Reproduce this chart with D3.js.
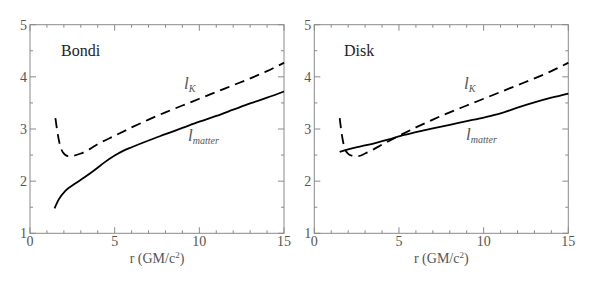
<!DOCTYPE html>
<html>
<head>
<meta charset="utf-8">
<script src="https://cdn.jsdelivr.net/npm/d3@7"></script>
<style>
  body { margin: 0; background: #fff; }
</style>
</head>
<body>
<svg id="chart" width="600" height="297"></svg>
<script>
// Data
const xTicks = [0, 5, 10, 15]
const yTicks = [1, 2, 3, 4, 5]

// Bondi panel
const bondiKr = [1.5, 1.6, 1.75, 1.95, 2.25, 2.6, 3.0, 3.5, 4.0, 5.0, 6.0, 7.0, 8.0, 9.0, 10.0, 11.0, 12.0, 13.0, 14.0, 15.0]
const bondiKl = [3.21, 2.98, 2.72, 2.55, 2.48, 2.49, 2.53, 2.61, 2.71, 2.87, 3.03, 3.18, 3.32, 3.45, 3.58, 3.71, 3.84, 3.97, 4.11, 4.27]
const bondiMr = [1.45, 1.7, 2.1, 2.6, 3.2, 3.8, 4.4, 5.0, 5.5, 6.0, 7.0, 8.0, 9.0, 10.0, 11.0, 12.0, 13.0, 14.0, 15.0]
const bondiMl = [1.48, 1.65, 1.82, 1.94, 2.07, 2.21, 2.36, 2.49, 2.58, 2.65, 2.78, 2.90, 3.02, 3.14, 3.25, 3.37, 3.49, 3.60, 3.72]

// Disk panel
const diskKr = [1.5, 1.6, 1.75, 1.95, 2.2, 2.6, 3.0, 3.5, 4.0, 5.0, 6.0, 7.0, 8.0, 9.0, 10.0, 11.0, 12.0, 13.0, 14.0, 15.0]
const diskKl = [3.21, 2.95, 2.68, 2.54, 2.49, 2.48, 2.53, 2.61, 2.70, 2.87, 3.03, 3.18, 3.32, 3.45, 3.58, 3.71, 3.84, 3.97, 4.11, 4.27]
const diskMr = [1.5, 2.0, 2.8, 3.6, 4.4, 5.1, 6.0, 7.0, 8.0, 9.0, 10.0, 11.0, 12.0, 13.0, 14.0, 15.0]
const diskMl = [2.56, 2.61, 2.67, 2.73, 2.80, 2.87, 2.94, 3.01, 3.08, 3.15, 3.22, 3.30, 3.41, 3.51, 3.60, 3.68]

const panels = [
  { name: 'Bondi', left: 30, kr: bondiKr, kl: bondiKl, mr: bondiMr, ml: bondiMl, nameX: 61, lkX: 184, lkY: 89, lmX: 188, lmY: 141 },
  { name: 'Disk', left: 314.3, kr: diskKr, kl: diskKl, mr: diskMr, ml: diskMl, nameX: 344, lkX: 464, lkY: 89, lmX: 466, lmY: 140 }
]

const svg = d3.select('#chart')
const plotTop = 24.7, plotBottom = 233.3, pw = 254
const frame = '#8a8a8a'
const labelColor = '#555'
const serif = '"Liberation Serif"'

const y = d3.scaleLinear().domain([1, 5]).range([plotBottom, plotTop])

panels.forEach((p) => {
  const x = d3.scaleLinear().domain([0, 15]).range([p.left, p.left + pw])
  const g = svg.append('g')

  // frame
  g.append('rect')
    .attr('x', x(0)).attr('y', plotTop)
    .attr('width', pw).attr('height', plotBottom - plotTop)
    .attr('fill', 'none').attr('stroke', frame).attr('stroke-width', 1)

  // x ticks (inward, bottom and top)
  d3.range(0, 16).forEach((v) => {
    const len = v % 5 === 0 ? 6 : 3
    g.append('line').attr('x1', x(v)).attr('x2', x(v)).attr('y1', plotBottom).attr('y2', plotBottom - len).attr('stroke', frame)
    g.append('line').attr('x1', x(v)).attr('x2', x(v)).attr('y1', plotTop).attr('y2', plotTop + len).attr('stroke', frame)
  })
  // y ticks (inward, left and right)
  d3.range(1, 5.01, 0.5).forEach((v) => {
    const len = Number.isInteger(v) ? 6 : 3
    g.append('line').attr('x1', x(0)).attr('x2', x(0) + len).attr('y1', y(v)).attr('y2', y(v)).attr('stroke', frame)
    g.append('line').attr('x1', x(15)).attr('x2', x(15) - len).attr('y1', y(v)).attr('y2', y(v)).attr('stroke', frame)
  })

  // tick labels
  g.selectAll('.xl').data(xTicks).enter().append('text')
    .attr('x', (d) => x(d)).attr('y', plotBottom + 13)
    .attr('text-anchor', 'middle').attr('font-size', 14).attr('fill', labelColor)
    .style('font-family', serif)
    .text((d) => d)
  g.selectAll('.yl').data(yTicks).enter().append('text')
    .attr('x', x(0) - 3).attr('y', (d) => y(d) + 5)
    .attr('text-anchor', 'end').attr('font-size', 14).attr('fill', labelColor)
    .style('font-family', serif)
    .text((d) => d)

  // axis title
  const title = g.append('text')
    .attr('x', x(7.5)).attr('y', plotBottom + 30)
    .attr('text-anchor', 'middle').attr('font-size', 14).attr('fill', labelColor)
    .style('font-family', serif)
  title.append('tspan').text('r (GM/c')
  title.append('tspan').attr('dy', -5).attr('font-size', 9).text('2')
  title.append('tspan').attr('dy', 5).text(')')

  // panel name
  g.append('text').attr('x', p.nameX).attr('y', 56)
    .attr('font-size', 16).attr('fill', '#222')
    .style('font-family', serif)
    .text(p.name)

  const line = d3.line()
    .x((d) => x(d[0])).y((d) => y(d[1]))
    .curve(d3.curveMonotoneX)

  g.append('path')
    .attr('d', line(d3.zip(p.kr, p.kl)))
    .attr('fill', 'none').attr('stroke', '#000').attr('stroke-width', 1.8)
    .attr('stroke-dasharray', '10,6')
  g.append('path')
    .attr('d', line(d3.zip(p.mr, p.ml)))
    .attr('fill', 'none').attr('stroke', '#000').attr('stroke-width', 1.8)

  // curve labels
  const lk = g.append('text').attr('x', p.lkX).attr('y', p.lkY)
    .attr('font-size', 17).attr('font-style', 'italic').attr('fill', labelColor)
    .style('font-family', serif)
  lk.append('tspan').text('l')
  lk.append('tspan').attr('dy', 3).attr('font-size', 10).text('K')
  const lm = g.append('text').attr('x', p.lmX).attr('y', p.lmY)
    .attr('font-size', 17).attr('font-style', 'italic').attr('fill', labelColor)
    .style('font-family', serif)
  lm.append('tspan').text('l')
  lm.append('tspan').attr('dy', 3).attr('font-size', 10).text('matter')
})
</script>
</body>
</html>
